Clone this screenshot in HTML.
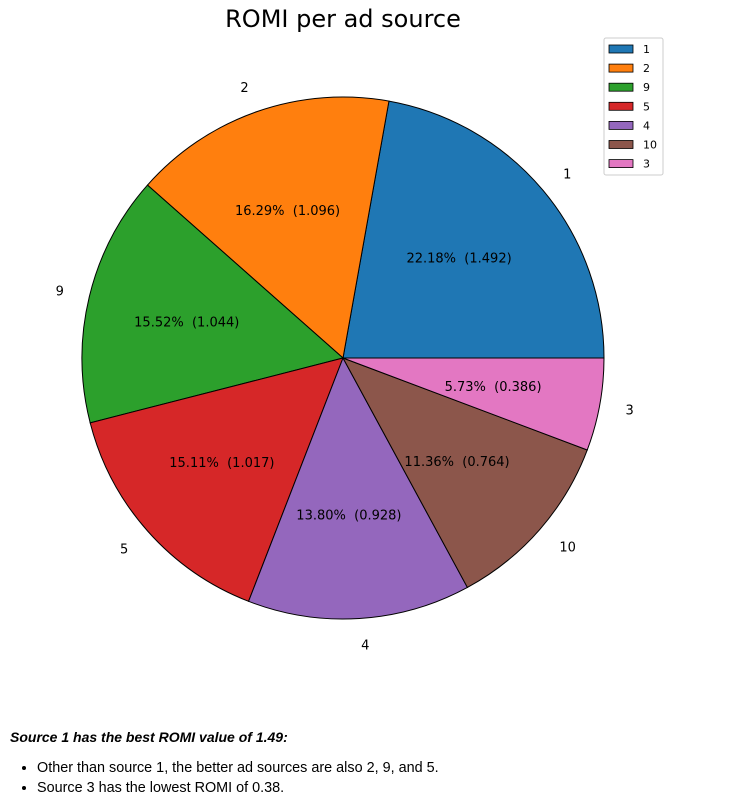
<!DOCTYPE html>
<html><head><meta charset="utf-8"><style>
body{margin:0;background:#fff;width:753px;height:806px;overflow:hidden;font-family:"Liberation Sans",sans-serif}
#note{position:absolute;left:10px;top:729px;font-size:14px;line-height:17px;color:#000}
#note ul{margin:14px 0 0 0;padding-left:27px}
#note li{margin-bottom:3px;font-size:14.4px}
</style></head><body>
<svg id="chart" width="753" height="700" style="position:absolute;left:0;top:0" font-family="DejaVu Sans, Liberation Sans, sans-serif">
<text x="343" y="27" font-size="24" text-anchor="middle">ROMI per ad source</text>
<g id="slices"></g>
<g id="legend"></g>
</svg>
<div id="note">
<b><i>Source 1 has the best ROMI value of 1.49:</i></b>
<ul>
<li>Other than source 1, the better ad sources are also 2, 9, and 5.</li>
<li>Source 3 has the lowest ROMI of 0.38.</li>
</ul></div>
<script>
const categories=["1","2","9","5","4","10","3"];
const values=[1.4924,1.0960,1.0443,1.0166,0.9284,0.7643,0.3856];
const colors=["#1f77b4","#ff7f0e","#2ca02c","#d62728","#9467bd","#8c564b","#e377c2"];
const NS="http://www.w3.org/2000/svg";
const cx=343,cy=358,R=261;
const total=values.reduce((a,b)=>a+b,0);
const g=document.getElementById('slices');
let a0=0;
function pt(a,r){return [cx+r*Math.cos(a),cy-r*Math.sin(a)];}
values.forEach((v,i)=>{
 const a1=a0+v/total*2*Math.PI;
 const p0=pt(a0,R),p1=pt(a1,R);
 const large=(a1-a0)>Math.PI?1:0;
 const path=document.createElementNS(NS,'path');
 path.setAttribute('d',`M${cx},${cy}L${p0[0]},${p0[1]}A${R},${R} 0 ${large} 0 ${p1[0]},${p1[1]}Z`);
 path.setAttribute('fill',colors[i]);path.setAttribute('stroke','#000');path.setAttribute('stroke-width','1');
 
 
 g.appendChild(path);
 const am=(a0+a1)/2;
 const lp=pt(am,R*1.1);
 const t=document.createElementNS(NS,'text');
 t.setAttribute('x',lp[0]);t.setAttribute('y',lp[1]+5);t.setAttribute('font-size','13');
 t.setAttribute('text-anchor',Math.cos(am)>0.01?'start':(Math.cos(am)<-0.01?'end':'middle'));
 t.textContent=categories[i];
 
 
 g.appendChild(t);
 const pp=pt(am,R*0.6);
 const t2=document.createElementNS(NS,'text');
 t2.setAttribute('x',pp[0]-4);t2.setAttribute('y',pp[1]+5);t2.setAttribute('font-size','13');t2.setAttribute('text-anchor','middle');
 t2.style.whiteSpace='pre';
 t2.textContent=(v/total*100).toFixed(2)+'%  ('+v.toFixed(3)+')';
 
 
 g.appendChild(t2);
 a0=a1;
});
const lg=document.getElementById('legend');
const box=document.createElementNS(NS,'rect');
box.setAttribute('x',604);box.setAttribute('y',38);box.setAttribute('width',59);box.setAttribute('height',137);box.setAttribute('rx',2);
box.setAttribute('fill','#fff');box.setAttribute('stroke','#ccc');


lg.appendChild(box);
categories.forEach((c,i)=>{
 const y=49+i*19.1;
 const r=document.createElementNS(NS,'rect');
 r.setAttribute('x',609);r.setAttribute('y',y-4);r.setAttribute('width',24);r.setAttribute('height',8);
 r.setAttribute('fill',colors[i]);r.setAttribute('stroke','#000');r.setAttribute('stroke-width','0.8');
 
 
 lg.appendChild(r);
 const t=document.createElementNS(NS,'text');
 t.setAttribute('x',643);t.setAttribute('y',y+4);t.setAttribute('font-size','11');t.textContent=c;
 
 
 lg.appendChild(t);
});
</script>
</body></html>
